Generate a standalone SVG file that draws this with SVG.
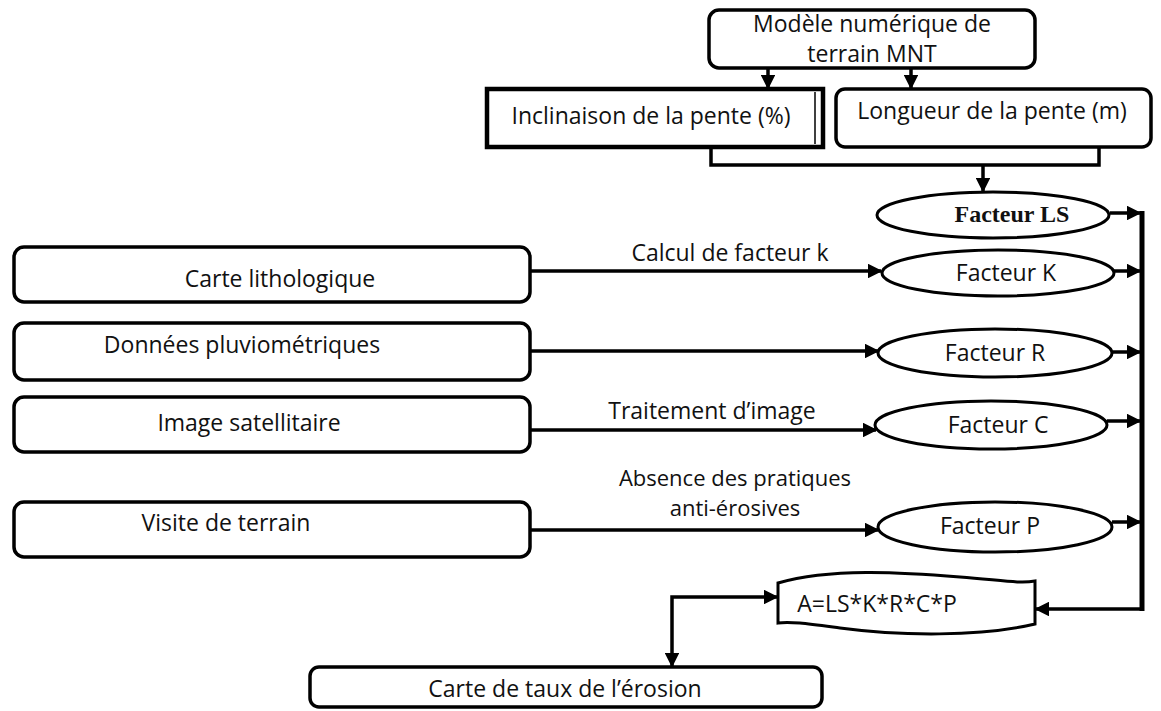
<svg xmlns="http://www.w3.org/2000/svg" width="1161" height="711" viewBox="0 0 1161 711">
<style>
.box{fill:#fff;stroke:#000;stroke-width:3.5}
.ell{fill:#fff;stroke:#000;stroke-width:3}
.t{font-family:"Open Sans","Noto Sans",sans-serif;font-size:23px;fill:#111;text-anchor:middle}
.ts{font-family:"Liberation Serif",serif;font-size:24px;font-weight:bold;fill:#111;text-anchor:middle}
.ln{fill:none;stroke:#000;stroke-width:3.5}
.bus{fill:none;stroke:#000;stroke-width:5}
</style>
<defs>
<marker id="ah" viewBox="0 0 10 10" refX="9" refY="5" markerWidth="4.2" markerHeight="4.2" orient="auto-start-reverse" markerUnits="strokeWidth">
<path d="M0,0 L10,5 L0,10 Z" fill="#000"/>
</marker>
</defs>
<rect width="1161" height="711" fill="#fff"/>

<g id="connectors">
<line class="ln" x1="768" y1="68" x2="768" y2="88" marker-end="url(#ah)"/>
<line class="ln" x1="911" y1="68" x2="911" y2="88" marker-end="url(#ah)"/>
<polyline class="ln" points="711,148 711,165 1099,165 1099,147"/>
<line class="ln" x1="983" y1="165" x2="983" y2="191" marker-end="url(#ah)"/>
<line class="ln" x1="530" y1="271" x2="881" y2="271" marker-end="url(#ah)"/>
<line class="ln" x1="530" y1="351" x2="878" y2="351" marker-end="url(#ah)"/>
<line class="ln" x1="530" y1="430" x2="876" y2="430" marker-end="url(#ah)"/>
<line class="ln" x1="530" y1="530" x2="878" y2="530" marker-end="url(#ah)"/>
<line class="ln" x1="1110" y1="213" x2="1140" y2="213" marker-end="url(#ah)"/>
<line class="ln" x1="1114" y1="271" x2="1140" y2="271" marker-end="url(#ah)"/>
<line class="ln" x1="1113" y1="352" x2="1140" y2="352" marker-end="url(#ah)"/>
<line class="ln" x1="1107" y1="421" x2="1140" y2="421" marker-end="url(#ah)"/>
<line class="ln" x1="1112" y1="522" x2="1140" y2="522" marker-end="url(#ah)"/>
<line class="bus" x1="1142" y1="211" x2="1142" y2="611"/>
<line class="ln" x1="1142" y1="609" x2="1036" y2="609" marker-end="url(#ah)"/>
<polyline class="ln" points="672,666 672,597 777,597" marker-start="url(#ah)" marker-end="url(#ah)"/>
<text class="t" x="730" y="261">Calcul de facteur k</text>
<text class="t" x="712" y="419">Traitement d’image</text>
<text class="t" x="735" y="486" style="font-size:22px">Absence des pratiques</text>
<text class="t" x="735" y="516" style="font-size:22px">anti-érosives</text>
</g>

<g id="mnt">
<rect class="box" x="709" y="10" width="326" height="58" rx="10"/>
<text class="t" x="872" y="32">Modèle numérique de</text>
<text class="t" x="872" y="62">terrain MNT</text>
</g>
<g id="inclinaison">
<rect class="box" x="487" y="89" width="336" height="58" style="stroke-width:4.5"/>
<line x1="815" y1="92" x2="815" y2="144" stroke="#000" stroke-width="1.5"/>
<text class="t" x="651" y="124">Inclinaison de la pente (%)</text>
</g>
<g id="longueur">
<rect class="box" x="836" y="89" width="315" height="58" rx="9"/>
<text class="t" x="992" y="119">Longueur de la pente (m)</text>
</g>
<g id="ls">
<ellipse class="ell" cx="993" cy="215" rx="116" ry="23"/>
<text class="ts" x="1012" y="222">Facteur LS</text>
</g>
<g id="k">
<ellipse class="ell" cx="998" cy="273" rx="116" ry="23"/>
<text class="t" x="1006" y="281">Facteur K</text>
</g>
<g id="r">
<ellipse class="ell" cx="995" cy="353" rx="117" ry="24"/>
<text class="t" x="995" y="361">Facteur R</text>
</g>
<g id="c">
<ellipse class="ell" cx="991" cy="425" rx="116" ry="24"/>
<text class="t" x="998" y="433">Facteur C</text>
</g>
<g id="p">
<ellipse class="ell" cx="995" cy="527" rx="117" ry="25"/>
<text class="t" x="990" y="534">Facteur P</text>
</g>
<g id="lithologique">
<rect class="box" x="14" y="247" width="516" height="55" rx="10"/>
<text class="t" x="280" y="287">Carte lithologique</text>
</g>
<g id="pluvio">
<rect class="box" x="14" y="323" width="516" height="57" rx="10"/>
<text class="t" x="242" y="353">Données pluviométriques</text>
</g>
<g id="satellite">
<rect class="box" x="14" y="397" width="516" height="55" rx="10"/>
<text class="t" x="249" y="431">Image satellitaire</text>
</g>
<g id="visite">
<rect class="box" x="14" y="502" width="516" height="55" rx="10"/>
<text class="t" x="226" y="531">Visite de terrain</text>
</g>
<g id="formule">
<path class="box" style="stroke-width:3" d="M778,583 C830,568 900,572 960,577 C1000,580 1020,584 1035,581 L1035,624 C980,637 900,636 840,628 C810,624 790,621 778,623 Z"/>
<text class="t" x="877" y="612">A=LS*K*R*C*P</text>
</g>
<g id="carte">
<rect class="box" x="310" y="667" width="512" height="40" rx="9"/>
<text class="t" x="565" y="697">Carte de taux de l’érosion</text>
</g>
</svg>
